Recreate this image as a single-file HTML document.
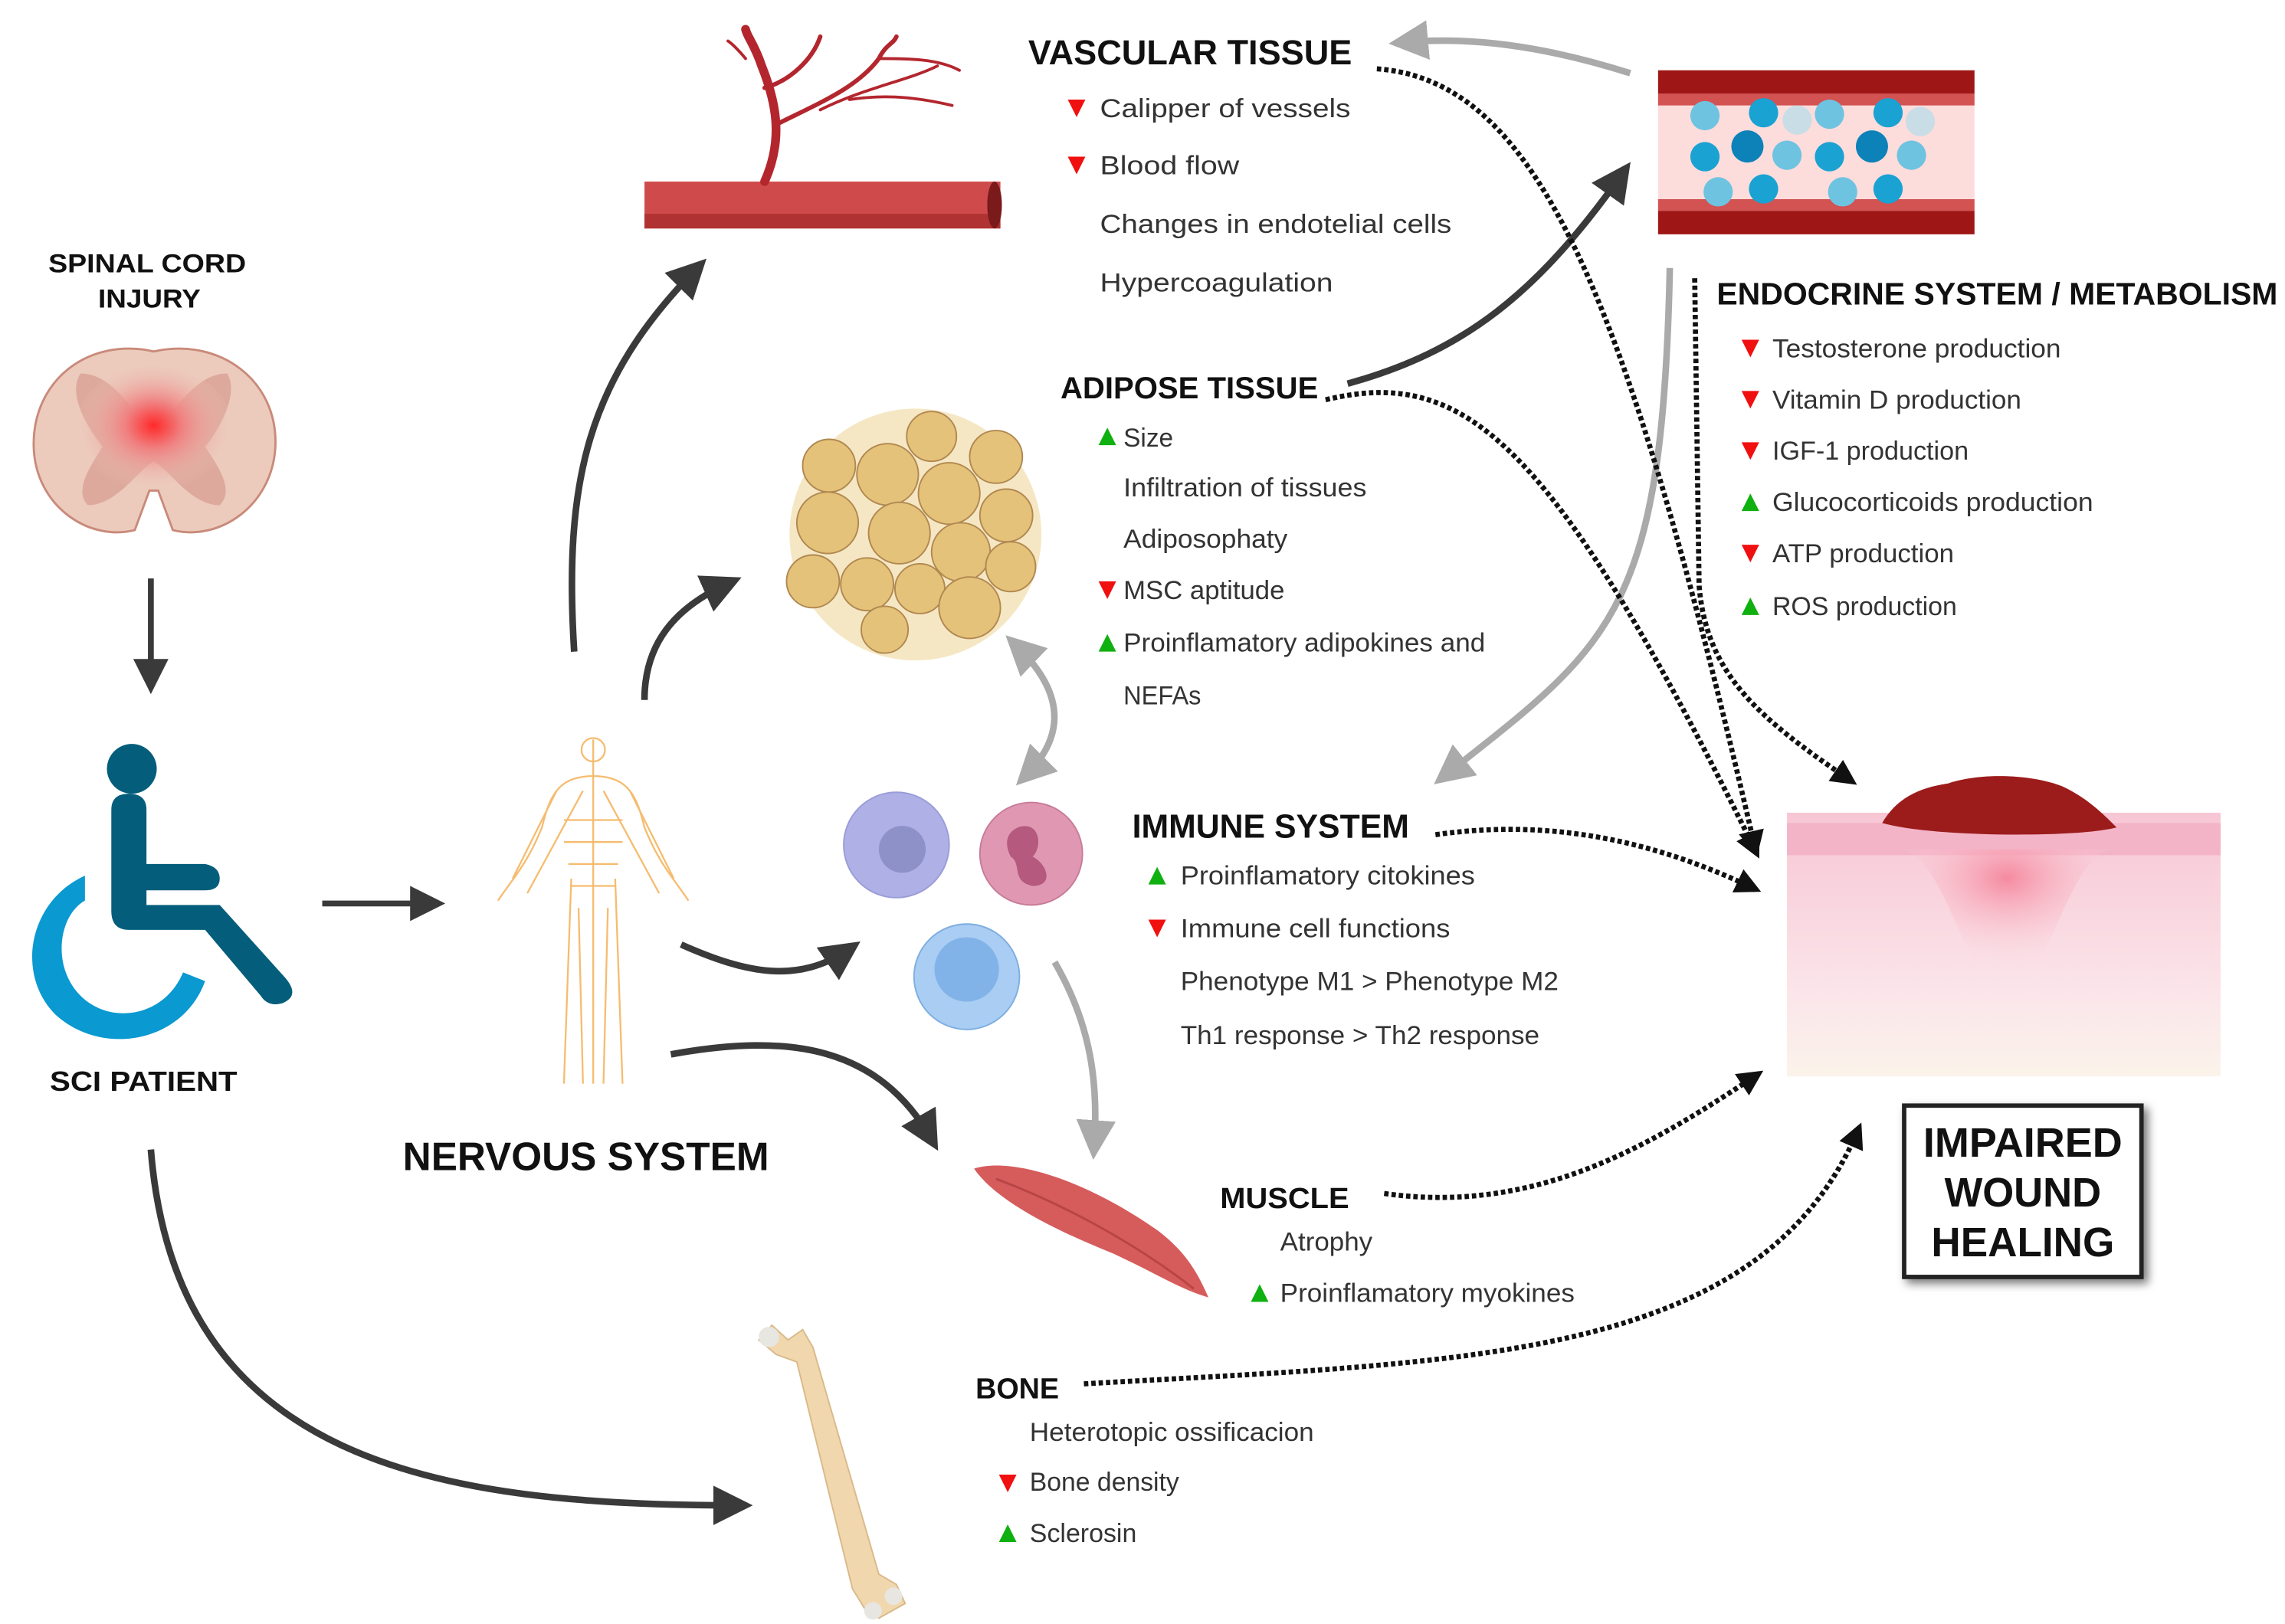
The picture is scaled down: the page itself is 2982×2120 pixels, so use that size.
<!DOCTYPE html>
<html><head><meta charset="utf-8"><style>
html,body{margin:0;padding:0;background:#fff}
svg{display:block}
text{font-family:"Liberation Sans",sans-serif;fill:#222}
.h{font-weight:bold;fill:#111}
.t{font-size:18px;fill:#333}
</style></head><body>
<svg width="2982" height="2120" viewBox="0 0 1560 1109" preserveAspectRatio="none" xmlns="http://www.w3.org/2000/svg">
<defs>
<marker id="ad" markerWidth="6" markerHeight="6" refX="4" refY="3" orient="auto" markerUnits="strokeWidth"><path d="M0,0 L6,3 L0,6 Z" fill="#3a3a3a"/></marker>
<marker id="ag" markerWidth="6" markerHeight="6" refX="4" refY="3" orient="auto" markerUnits="strokeWidth"><path d="M0,0 L6,3 L0,6 Z" fill="#aaa"/></marker>
<marker id="agr" markerWidth="6" markerHeight="6" refX="2" refY="3" orient="auto" markerUnits="strokeWidth"><path d="M6,0 L0,3 L6,6 Z" fill="#aaa"/></marker>
<marker id="ak" markerWidth="5" markerHeight="5" refX="3" refY="2.5" orient="auto" markerUnits="strokeWidth"><path d="M0,0 L5,2.5 L0,5 Z" fill="#111"/></marker>
<radialGradient id="sc" cx="0.5" cy="0.45" r="0.5"><stop offset="0" stop-color="#ff2a2a"/><stop offset="0.35" stop-color="#f08080"/><stop offset="1" stop-color="#eccbbd" stop-opacity="0"/></radialGradient>
<linearGradient id="wd" x1="0" y1="0" x2="0" y2="1"><stop offset="0" stop-color="#f7c6d4"/><stop offset="0.7" stop-color="#fbe6ea"/><stop offset="1" stop-color="#fbf3ea"/></linearGradient>
<radialGradient id="wc" cx="0.5" cy="0.2" r="0.6"><stop offset="0" stop-color="#f58aa0"/><stop offset="1" stop-color="#fbd8e0" stop-opacity="0"/></radialGradient>
</defs>

<!-- vessel tube -->
<rect x="440" y="124" width="243" height="32" fill="#cf4b4b"/>
<rect x="440" y="146" width="243" height="10" fill="#b03232"/>
<ellipse cx="679" cy="140" rx="5" ry="16" fill="#7a1a1a"/>
<g stroke="#b3262e" fill="none" stroke-linecap="round">
<path d="M522,124 C535,95 530,70 520,45 C515,30 510,25 509,20" stroke-width="6"/>
<path d="M522,60 C540,55 555,40 560,25" stroke-width="3"/>
<path d="M530,85 C560,70 585,60 600,40 C605,30 610,30 612,25" stroke-width="3"/>
<path d="M560,75 C590,60 620,55 640,45 M600,40 C620,40 640,40 655,48 M580,68 C600,65 620,65 650,72" stroke-width="2"/>
<path d="M509,40 C505,35 500,30 497,28" stroke-width="2"/>
</g>

<g lengthAdjust="spacingAndGlyphs">
<text x="702" y="44" class="h" font-size="24" textLength="221" lengthAdjust="spacingAndGlyphs">VASCULAR TISSUE</text>
<path d="M729,68 L741,68 L735,80Z" fill="#f01010"/>
<text x="751" y="80" class="t" font-size="19" textLength="171" lengthAdjust="spacingAndGlyphs">Calipper of vessels</text>
<path d="M729,107 L741,107 L735,119Z" fill="#f01010"/>
<text x="751" y="119" class="t" font-size="19" textLength="95" lengthAdjust="spacingAndGlyphs">Blood flow</text>
<text x="751" y="159" class="t" font-size="19" textLength="240" lengthAdjust="spacingAndGlyphs">Changes in endotelial cells</text>
<text x="751" y="199" class="t" font-size="19" textLength="159" lengthAdjust="spacingAndGlyphs">Hypercoagulation</text>
</g>

<!-- blood vessel cross-section -->
<rect x="1132" y="48" width="216" height="112" fill="#fddcdc"/>
<rect x="1132" y="48" width="216" height="16" fill="#9e1616"/>
<rect x="1132" y="64" width="216" height="8" fill="#d35252"/>
<rect x="1132" y="136" width="216" height="8" fill="#d35252"/>
<rect x="1132" y="144" width="216" height="16" fill="#9e1616"/>
<g>
<circle cx="1164" cy="79" r="10" fill="#6ec3e0"/><circle cx="1204" cy="77" r="10" fill="#19a2d2"/><circle cx="1227" cy="82" r="10" fill="#c9dde6"/><circle cx="1249" cy="78" r="10" fill="#6ec3e0"/><circle cx="1289" cy="77" r="10" fill="#19a2d2"/><circle cx="1311" cy="83" r="10" fill="#c9dde6"/>
<circle cx="1164" cy="107" r="10" fill="#19a2d2"/><circle cx="1193" cy="100" r="11" fill="#0c82b8"/><circle cx="1220" cy="106" r="10" fill="#6ec3e0"/><circle cx="1249" cy="107" r="10" fill="#19a2d2"/><circle cx="1278" cy="100" r="11" fill="#0c82b8"/><circle cx="1305" cy="106" r="10" fill="#6ec3e0"/>
<circle cx="1173" cy="131" r="10" fill="#6ec3e0"/><circle cx="1204" cy="129" r="10" fill="#19a2d2"/><circle cx="1258" cy="131" r="10" fill="#6ec3e0"/><circle cx="1289" cy="129" r="10" fill="#19a2d2"/>
</g>

<!-- endocrine -->
<text x="1172" y="208" class="h" font-size="21.5" textLength="383" lengthAdjust="spacingAndGlyphs">ENDOCRINE SYSTEM / METABOLISM</text>
<path d="M1189,232 L1201,232 L1195,244Z" fill="#f01010"/><text x="1210" y="244" class="t" font-size="17.5" textLength="197" lengthAdjust="spacingAndGlyphs">Testosterone production</text>
<path d="M1189,267 L1201,267 L1195,279Z" fill="#f01010"/><text x="1210" y="279" class="t" font-size="17.5" textLength="170" lengthAdjust="spacingAndGlyphs">Vitamin D production</text>
<path d="M1189,302 L1201,302 L1195,314Z" fill="#f01010"/><text x="1210" y="314" class="t" font-size="17.5" textLength="134" lengthAdjust="spacingAndGlyphs">IGF-1 production</text>
<path d="M1189,349 L1201,349 L1195,337Z" fill="#10b010"/><text x="1210" y="349" class="t" font-size="17.5" textLength="219" lengthAdjust="spacingAndGlyphs">Glucocorticoids production</text>
<path d="M1189,372 L1201,372 L1195,384Z" fill="#f01010"/><text x="1210" y="384" class="t" font-size="17.5" textLength="124" lengthAdjust="spacingAndGlyphs">ATP production</text>
<path d="M1189,420 L1201,420 L1195,408Z" fill="#10b010"/><text x="1210" y="420" class="t" font-size="17.5" textLength="126" lengthAdjust="spacingAndGlyphs">ROS production</text>

<!-- spinal cord -->
<text x="33" y="186" class="h" font-size="18" textLength="135" lengthAdjust="spacingAndGlyphs">SPINAL CORD</text>
<text x="67" y="210" class="h" font-size="18" textLength="70" lengthAdjust="spacingAndGlyphs">INJURY</text>
<path d="M105,240 C150,230 190,260 188,305 C186,345 150,370 118,362 L108,335 L102,335 L92,362 C60,370 24,345 23,305 C22,260 60,230 105,240Z" fill="#eccbbd" stroke="#c98a7a" stroke-width="1.5"/>
<path d="M55,255 C80,255 95,290 105,295 C115,290 130,255 155,255 C165,270 145,300 140,305 C150,320 160,335 150,345 C130,345 115,320 105,315 C95,320 80,345 60,345 C50,335 62,318 70,305 C62,295 45,270 55,255Z" fill="#d99a90" opacity="0.7"/>
<ellipse cx="105" cy="295" rx="55" ry="45" fill="url(#sc)"/>

<line x1="103" y1="395" x2="103" y2="466" stroke="#3a3a3a" stroke-width="4" marker-end="url(#ad)"/>

<!-- wheelchair -->
<circle cx="90" cy="525" r="17" fill="#045e7b"/>
<path d="M76,553 Q76,542 88,542 Q100,542 100,553 L100,590 L140,590 Q150,592 150,600 Q150,608 140,608 L100,608 L100,618 L150,618 L195,668 Q205,680 193,685 Q183,688 178,680 L140,635 L88,635 Q76,635 76,622Z" fill="#045e7b"/>
<path d="M58,598 C20,615 10,665 38,693 C70,722 125,712 140,670 L125,664 C112,695 75,700 55,680 C35,660 40,625 58,615Z" fill="#0a99d0"/>
<text x="34" y="745" class="h" font-size="19" textLength="128" lengthAdjust="spacingAndGlyphs">SCI PATIENT</text>

<line x1="220" y1="617" x2="296" y2="617" stroke="#3a3a3a" stroke-width="4" marker-end="url(#ad)"/>

<!-- nervous system figure -->
<g stroke="#f5b560" fill="none" stroke-width="1.2" opacity="0.9">
<circle cx="405" cy="512" r="8"/>
<line x1="405" y1="505" x2="405" y2="740"/>
<path d="M405,530 C380,530 375,545 370,565 C360,590 350,600 340,615 M405,530 C430,530 435,545 440,565 C450,590 460,600 470,615"/>
<path d="M398,540 L360,610 M412,540 L450,610 M390,600 L385,740 M420,600 L425,740 M395,620 L398,740 M415,620 L412,740 M385,560 L425,560 M385,575 L425,575 M388,590 L422,590 M390,605 L420,605"/>
<path d="M380,540 L350,600 M430,540 L460,600"/>
</g>
<text x="275" y="799" class="h" font-size="27" textLength="250" lengthAdjust="spacingAndGlyphs">NERVOUS SYSTEM</text>

<!-- adipose cluster -->
<g stroke="#b08850" stroke-width="1">
<circle cx="625" cy="365" r="86" fill="#f6e7c4" stroke="none"/>
<g fill="#e5c27a">
<circle cx="636" cy="298" r="17"/><circle cx="680" cy="312" r="18"/><circle cx="566" cy="318" r="18"/><circle cx="606" cy="324" r="21"/><circle cx="648" cy="337" r="21"/>
<circle cx="565" cy="357" r="21"/><circle cx="614" cy="364" r="21"/><circle cx="656" cy="377" r="20"/><circle cx="687" cy="352" r="18"/>
<circle cx="555" cy="397" r="18"/><circle cx="592" cy="399" r="18"/><circle cx="628" cy="402" r="17"/><circle cx="690" cy="387" r="17"/>
<circle cx="604" cy="430" r="16"/><circle cx="662" cy="415" r="21"/>
</g></g>
<text x="724" y="272" class="h" font-size="21" textLength="176" lengthAdjust="spacingAndGlyphs">ADIPOSE TISSUE</text>
<path d="M750,304 L762,304 L756,292Z" fill="#10b010"/><text x="767" y="305" class="t" font-size="17.5" textLength="34" lengthAdjust="spacingAndGlyphs">Size</text>
<text x="767" y="339" class="t" font-size="17.5" textLength="166" lengthAdjust="spacingAndGlyphs">Infiltration of tissues</text>
<text x="767" y="374" class="t" font-size="17.5" textLength="112" lengthAdjust="spacingAndGlyphs">Adiposophaty</text>
<path d="M750,397 L762,397 L756,409Z" fill="#f01010"/><text x="767" y="409" class="t" font-size="17.5" textLength="110" lengthAdjust="spacingAndGlyphs">MSC aptitude</text>
<path d="M750,445 L762,445 L756,433Z" fill="#10b010"/><text x="767" y="445" class="t" font-size="17.5" textLength="247" lengthAdjust="spacingAndGlyphs">Proinflamatory adipokines and</text>
<text x="767" y="481" class="t" font-size="17.5" textLength="53" lengthAdjust="spacingAndGlyphs">NEFAs</text>

<!-- immune cells -->
<circle cx="612" cy="577" r="36" fill="#aeb0e6" stroke="#9a9cd8"/>
<circle cx="616" cy="580" r="16" fill="#8e90c8"/>
<circle cx="704" cy="583" r="35" fill="#e098b2" stroke="#c77b97"/>
<path d="M695,565 C710,560 712,578 705,585 C715,590 720,605 705,605 C690,602 698,590 690,585 C685,575 688,568 695,565Z" fill="#b5597e"/>
<circle cx="660" cy="667" r="36" fill="#a9cdf3" stroke="#7eaee0"/>
<circle cx="660" cy="662" r="22" fill="#82b3e8"/>
<text x="773" y="572" class="h" font-size="23" textLength="189" lengthAdjust="spacingAndGlyphs">IMMUNE SYSTEM</text>
<path d="M784,604 L796,604 L790,592Z" fill="#10b010"/><text x="806" y="604" class="t" font-size="18" textLength="201" lengthAdjust="spacingAndGlyphs">Proinflamatory citokines</text>
<path d="M784,628 L796,628 L790,640Z" fill="#f01010"/><text x="806" y="640" class="t" font-size="18" textLength="184" lengthAdjust="spacingAndGlyphs">Immune cell functions</text>
<text x="806" y="676" class="t" font-size="18" textLength="258" lengthAdjust="spacingAndGlyphs">Phenotype M1 &gt; Phenotype M2</text>
<text x="806" y="713" class="t" font-size="18" textLength="245" lengthAdjust="spacingAndGlyphs">Th1 response &gt; Th2 response</text>

<!-- muscle -->
<path d="M665,798 C690,790 740,805 790,840 C810,855 818,870 825,886 C805,880 790,870 760,856 C720,840 680,820 665,798Z" fill="#d65c5c"/>
<path d="M680,805 C720,820 770,845 815,880" stroke="#b84444" stroke-width="1.5" fill="none"/>
<text x="833" y="825" class="h" font-size="20" textLength="88" lengthAdjust="spacingAndGlyphs">MUSCLE</text>
<text x="874" y="854" class="t" font-size="18" textLength="63" lengthAdjust="spacingAndGlyphs">Atrophy</text>
<path d="M854,889 L866,889 L860,877Z" fill="#10b010"/><text x="874" y="889" class="t" font-size="18" textLength="201" lengthAdjust="spacingAndGlyphs">Proinflamatory myokines</text>

<!-- bone -->
<path d="M527,905 L538,915 L548,908 L555,920 L600,1075 L612,1082 L618,1095 L600,1105 L590,1098 L582,1085 L544,930 L530,925 L518,915Z" fill="#f1d7ad" stroke="#d9b98a"/>
<circle cx="525" cy="913" r="7" fill="#e8e6e1"/><circle cx="596" cy="1100" r="6" fill="#e8e6e1"/><circle cx="610" cy="1090" r="6" fill="#e8e6e1"/>
<text x="666" y="955" class="h" font-size="20" textLength="57" lengthAdjust="spacingAndGlyphs">BONE</text>
<text x="703" y="984" class="t" font-size="17.5" textLength="194" lengthAdjust="spacingAndGlyphs">Heterotopic ossificacion</text>
<path d="M682,1007 L694,1007 L688,1019Z" fill="#f01010"/><text x="703" y="1018" class="t" font-size="17.5" textLength="102" lengthAdjust="spacingAndGlyphs">Bone density</text>
<path d="M682,1053 L694,1053 L688,1041Z" fill="#10b010"/><text x="703" y="1053" class="t" font-size="17.5" textLength="73" lengthAdjust="spacingAndGlyphs">Sclerosin</text>

<!-- wound -->
<rect x="1220" y="555" width="296" height="180" fill="url(#wd)"/>
<rect x="1220" y="562" width="296" height="22" fill="#f4b4c8"/>
<path d="M1300,580 C1330,590 1340,670 1370,678 C1400,670 1410,590 1440,580Z" fill="url(#wc)"/>
<path d="M1285,562 C1295,545 1310,538 1330,535 C1350,528 1385,528 1408,537 C1425,545 1435,555 1445,565 C1420,572 1320,572 1285,562Z" fill="#9c1c1c"/>

<rect x="1300" y="755" width="162" height="117" fill="#fff" stroke="#222" stroke-width="3" style="filter:drop-shadow(3px 3px 3px #777)"/>
<text x="1381" y="790" class="h" font-size="28" text-anchor="middle" textLength="136" lengthAdjust="spacingAndGlyphs">IMPAIRED</text>
<text x="1381" y="824" class="h" font-size="28" text-anchor="middle" textLength="107" lengthAdjust="spacingAndGlyphs">WOUND</text>
<text x="1381" y="858" class="h" font-size="28" text-anchor="middle" textLength="125" lengthAdjust="spacingAndGlyphs">HEALING</text>

<!-- dark arrows -->
<g stroke="#3a3a3a" stroke-width="4.5" fill="none" marker-end="url(#ad)">
<path d="M392,445 C385,330 400,260 476,183"/>
<path d="M440,478 C440,440 460,415 498,398"/>
<path d="M465,645 C510,665 545,672 580,648"/>
<path d="M458,720 C540,705 600,715 636,778"/>
<path d="M103,785 C120,1000 300,1028 505,1028"/>
<path d="M920,262 C1000,240 1050,200 1108,118"/>
</g>
<!-- gray arrows -->
<g stroke="#aaa" stroke-width="4.5" fill="none">
<path d="M1113,50 C1050,30 1000,25 957,29" marker-end="url(#ag)"/>
<path d="M1140,183 C1135,420 1100,440 986,530" marker-end="url(#ag)"/>
<path d="M693,440 C735,480 720,510 700,530" marker-end="url(#ag)" marker-start="url(#agr)"/>
<path d="M720,657 C745,700 750,740 747,783" marker-end="url(#ag)"/>
</g>
<!-- dotted arrows -->
<g stroke="#111" stroke-width="3.5" fill="none" stroke-dasharray="3,2" marker-end="url(#ak)">
<path d="M940,47 C1050,55 1110,200 1198,578"/>
<path d="M1157,190 L1160,400 C1165,460 1200,490 1262,532"/>
<path d="M905,273 C1000,250 1060,300 1198,580"/>
<path d="M980,570 C1050,560 1120,570 1196,606"/>
<path d="M945,815 C1050,830 1130,780 1198,735"/>
<path d="M740,945 C1000,930 1200,930 1268,773"/>
</g>
</svg>
</body></html>
